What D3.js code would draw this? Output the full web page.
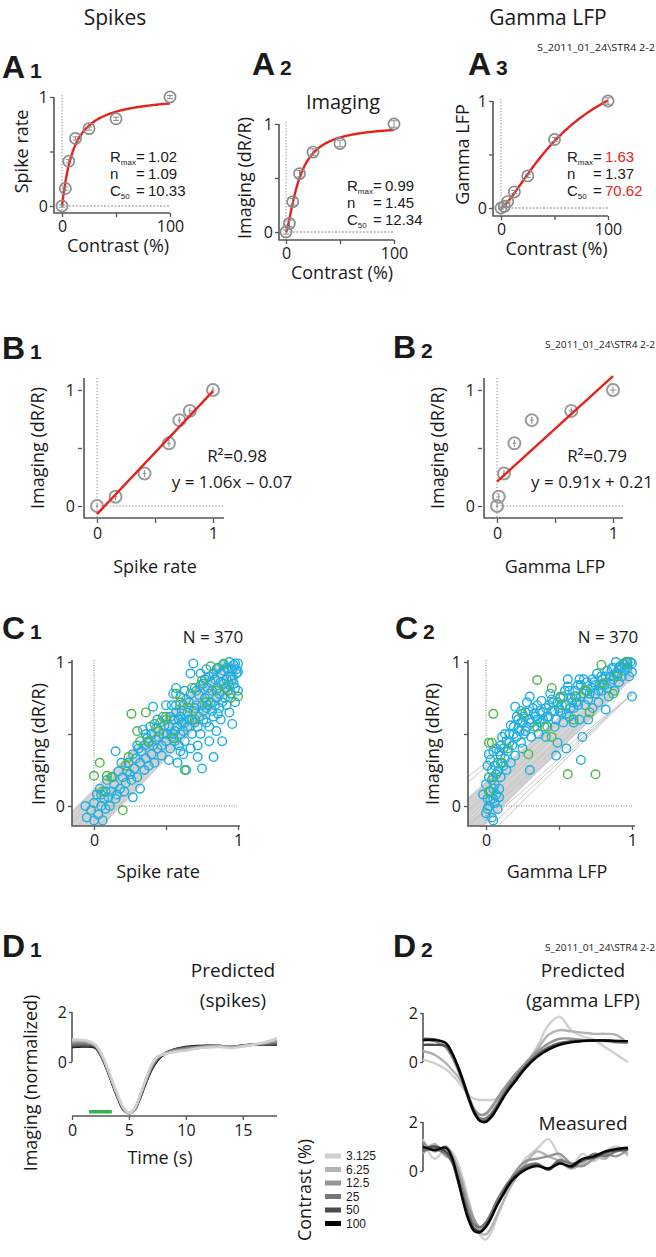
<!DOCTYPE html>
<html><head><meta charset="utf-8">
<script src="https://cdn.jsdelivr.net/npm/d3@7"></script>
<style>body{margin:0;background:#fff} svg{display:block;background:#fff} text{font-family:"Open Sans",sans-serif;fill:#1a1a1a}</style>
</head><body><svg id="c" width="656" height="1257"></svg>
<script>
// ---------- DATA ----------
const contrasts = [0, 3.125, 6.25, 12.5, 25, 50, 100];
const spikeResp = [0, 0.16, 0.41, 0.62, 0.71, 0.80, 1.0];
const spikeErr = [0.01, 0.015, 0.015, 0.015, 0.015, 0.015, 0.015];
const imagingResp = [0, 0.08, 0.28, 0.54, 0.74, 0.82, 1.0];
const imagingErr = [0.02, 0.03, 0.03, 0.03, 0.03, 0.03, 0.03];
const gammaResp = [0, 0.015, 0.06, 0.15, 0.30, 0.64, 1.0];
const gammaErr = [0.01, 0.01, 0.01, 0.015, 0.015, 0.02, 0.03];
const nrSpikes = [1.02, 1.09, 10.33];   // Rmax, n, C50
const nrImaging = [0.99, 1.45, 12.34];
const nrGamma = [1.63, 1.37, 70.62];
const statLabelsSpikes = ["1.02", "1.09", "10.33"];
const statLabelsImaging = ["0.99", "1.45", "12.34"];
const statLabelsGamma = ["1.63", "1.37", "70.62"];
const fitB1 = [1.06, -0.07];
const fitB2 = [0.91, 0.21];

const c1Blue = [[-0.05,-0.08],[-0.02,-0.03],[0.0,0.02],[0.03,-0.06],[0.05,0.0],[0.07,0.05],[0.02,0.08],[-0.06,0.0],[0.08,-0.02],[0.1,0.06],[0.04,0.12],[0.12,0.1],[0.06,-0.1],[0.0,-0.1],[0.15,0.05],[0.14,0.15],[0.09,0.18],[0.18,0.12],[0.2,0.2],[0.17,0.24],
[0.22,0.16],[0.25,0.22],[0.24,0.3],[0.28,0.26],[0.3,0.2],[0.32,0.3],[0.27,0.36],[0.15,0.38],[0.35,0.25],[0.33,0.38],[0.36,0.33],[0.38,0.28],[0.4,0.36],[0.42,0.3],[0.34,0.53],[0.38,0.44],[0.41,0.42],[0.44,0.4],[0.45,0.48],[0.43,0.54],[0.4,0.5],[0.37,0.47],[0.41,0.69],[0.47,0.35],[0.46,0.58],[0.3,0.42],[0.26,0.18],[0.21,0.1],[0.32,0.12],[0.27,0.06],
[0.48,0.5],[0.5,0.45],[0.52,0.55],[0.5,0.62],[0.54,0.7],[0.55,0.5],[0.56,0.6],[0.58,0.55],[0.57,0.65],[0.6,0.5],[0.6,0.62],[0.62,0.7],[0.61,0.58],[0.63,0.45],[0.64,0.25],[0.65,0.55],[0.65,0.65],[0.66,0.72],[0.67,0.92],[0.69,0.99],[0.68,0.6],[0.68,0.5],[0.7,0.68],[0.7,0.58],[0.53,0.4],[0.56,0.45],[0.59,0.42],[0.62,0.36],[0.58,0.3],[0.52,0.32],[0.55,0.78],[0.6,0.76],[0.63,0.8],[0.57,0.82],[0.5,0.7],
[0.72,0.34],[0.75,0.26],[0.72,0.42],[0.74,0.5],[0.73,0.62],[0.75,0.7],[0.76,0.6],[0.77,0.75],[0.78,0.68],[0.79,0.82],[0.8,0.55],[0.8,0.45],[0.81,0.72],[0.82,0.8],[0.83,0.62],[0.83,0.34],[0.84,0.88],[0.85,0.75],[0.85,0.52],[0.86,0.82],[0.87,0.68],[0.88,0.92],[0.88,0.6],[0.89,0.45],[0.9,0.85],[0.9,0.98],[0.91,0.75],[0.92,0.88],[0.93,0.8],[0.94,1.0],[0.94,0.65],[0.95,0.9],[0.96,0.57],[0.96,0.95],[0.97,0.85],[0.98,0.99],[0.99,0.92],[1.0,0.99],[1.0,0.93],[1.0,0.8],[0.98,0.72],[0.92,0.96],[0.86,0.96],[0.8,0.9],[0.76,0.85],[0.71,0.8],[0.74,0.92],[0.78,0.95],
[0.05,0.08],[0.11,0.0],[0.13,0.2],[0.19,0.3],[0.23,0.24],[0.29,0.33],[0.31,0.4],[0.35,0.42],[0.39,0.55],[0.43,0.46],[0.47,0.42],[0.49,0.56],[0.51,0.5],[0.53,0.62],[0.54,0.48],[0.57,0.7],[0.59,0.6],[0.61,0.66],[0.63,0.58],[0.64,0.74],[0.66,0.6],[0.67,0.78],[0.69,0.66],[0.7,0.82],[0.71,0.7],[0.72,0.55],[0.73,0.77],[0.74,0.84],[0.76,0.66],[0.77,0.88],[0.78,0.58],[0.79,0.7],[0.8,0.78],[0.81,0.86],[0.82,0.66],[0.83,0.92],[0.84,0.7],[0.85,0.95],[0.86,0.64],[0.87,0.78],[0.88,0.86],[0.89,0.72],[0.9,0.94],[0.91,0.82],[0.92,0.7],[0.93,0.95],[0.94,0.84],[0.95,0.78],[0.96,0.88],[0.97,0.98],[0.98,0.82],[0.99,0.95],[0.62,0.52],[0.56,0.52],[0.44,0.6],[0.36,0.5],[0.16,0.08],[0.08,0.1],[0.6,0.38],[0.67,0.4]];
const c1Green = [[0.26,0.64],[0.36,0.65],[0.42,0.57],[0.57,0.78],[0.75,0.87],[0.81,0.97],[0.9,0.99],[0.04,0.3],[0.0,0.21],[0.09,0.21],[0.24,0.34],[0.32,0.45],[0.38,0.45],[0.63,0.25],[0.6,0.72],[1.0,0.76],[0.92,0.82],[0.2,-0.03],[0.3,0.52],[0.45,0.52],[0.5,0.6],[0.66,0.68],[0.7,0.6],[0.78,0.72],[0.85,0.8],[0.55,0.47],[0.48,0.62],[0.12,0.2],[0.06,0.1],[0.22,0.28],[0.68,0.82],[0.95,0.75]];
const c2Blue = [[0.0,-0.05],[0.02,0.0],[0.04,-0.08],[0.01,0.05],[0.03,0.1],[0.05,0.05],[0.0,0.15],[0.02,0.2],[0.06,0.15],[0.04,0.25],[0.07,0.22],[0.08,0.3],[0.03,0.32],[0.05,0.38],[0.09,0.12],[0.1,0.2],[0.06,0.02],[0.08,-0.02],[-0.02,0.08],[0.01,0.28],[0.07,0.4],[0.1,0.35],[0.12,0.28],[0.12,0.4],[0.14,0.45],[0.11,0.48],[0.13,0.33],[0.15,0.38],[0.05,-0.1],[0.09,0.06],
[0.16,0.5],[0.18,0.42],[0.19,0.55],[0.2,0.69],[0.21,0.48],[0.22,0.6],[0.23,0.52],[0.24,0.44],[0.25,0.58],[0.26,0.5],[0.27,0.65],[0.28,0.55],[0.3,0.25],[0.3,0.76],[0.3,0.6],[0.31,0.48],[0.33,0.55],[0.34,0.62],[0.35,0.7],[0.36,0.5],[0.37,0.58],[0.38,0.73],[0.39,0.65],[0.4,0.55],[0.2,0.35],[0.17,0.3],[0.25,0.4],[0.32,0.68],[0.28,0.72],[0.24,0.66],
[0.42,0.62],[0.43,0.7],[0.44,0.78],[0.45,0.66],[0.46,0.72],[0.48,0.6],[0.49,0.44],[0.5,0.68],[0.51,0.75],[0.52,0.65],[0.53,0.58],[0.54,0.8],[0.55,0.7],[0.56,0.88],[0.56,0.83],[0.57,0.62],[0.58,0.75],[0.6,0.68],[0.61,0.8],[0.62,0.72],[0.63,0.84],[0.64,0.88],[0.65,0.76],[0.66,0.48],[0.67,0.88],[0.68,0.7],[0.69,0.8],[0.7,0.74],[0.47,0.55],[0.41,0.48],[0.55,0.4],
[0.72,0.82],[0.73,0.68],[0.74,0.86],[0.75,0.78],[0.76,0.92],[0.77,0.72],[0.78,0.84],[0.79,0.8],[0.8,0.88],[0.82,0.67],[0.82,0.9],[0.83,0.82],[0.84,0.76],[0.85,0.85],[0.86,0.95],[0.87,0.88],[0.88,0.8],[0.89,1.0],[0.9,0.92],[0.91,0.86],[0.92,0.97],[0.93,0.9],[0.94,0.99],[0.95,0.94],[0.96,1.0],[0.97,0.96],[0.98,0.9],[0.99,1.0],[1.0,0.99],[1.0,0.93],[1.0,0.76],[0.7,0.6],[0.6,0.58],
[0.01,-0.02],[0.03,0.04],[0.05,0.12],[0.06,0.28],[0.04,0.18],[0.08,0.24],[0.09,0.38],[0.11,0.3],[0.13,0.5],[0.16,0.44],[0.17,0.56],[0.19,0.5],[0.21,0.62],[0.22,0.54],[0.24,0.58],[0.26,0.62],[0.27,0.52],[0.29,0.66],[0.31,0.58],[0.33,0.64],[0.35,0.6],[0.37,0.66],[0.39,0.6],[0.41,0.68],[0.43,0.62],[0.45,0.74],[0.47,0.66],[0.49,0.72],[0.51,0.66],[0.53,0.76],[0.55,0.64],[0.57,0.8],[0.59,0.72],[0.61,0.76],[0.63,0.7],[0.65,0.84],[0.67,0.78],[0.69,0.86],[0.71,0.78],[0.73,0.88],[0.75,0.84],[0.77,0.8],[0.79,0.9],[0.81,0.84],[0.83,0.94],[0.85,0.9],[0.87,0.96],[0.89,0.92],[0.91,0.96],[0.93,0.96],[0.95,0.98],[0.97,1.0],[0.64,0.6],[0.58,0.68],[0.48,0.35],[0.65,0.32],[0.14,0.25],[0.07,0.08],[0.02,0.36],[0.1,0.42]];
const c2Green = [[0.35,0.875],[0.79,0.98],[0.96,1.0],[0.87,0.78],[0.56,0.22],[0.75,0.22],[0.05,0.64],[0.02,0.44],[0.04,0.44],[0.29,0.36],[0.45,0.82],[0.51,0.76],[0.62,0.76],[0.71,0.65],[0.6,0.6],[0.45,0.48],[0.25,0.64],[0.42,0.55],[0.1,0.3],[0.05,0.2],[0.15,0.4],[0.68,0.8],[0.8,0.85],[0.9,0.9],[0.52,0.7],[0.35,0.55],[0.02,0.1]];
// per-cell regression fits (slope, intercept)
const c1Band = [[1.0, 0.12], [1.05, -0.2]];
const c1Fits = [[1,0],[1.03,-0.05],[0.97,0.05],[1.05,-0.1],[0.95,0.08],[1.0,-0.12],[1.02,0.09],[0.98,-0.15],[1.04,0.02],[0.99,-0.08]];
const c2Band = [[0.9, 0.17], [1.0, -0.12]];
const c2Fits = [[0.95,0.05],[0.9,0.1],[1.0,0.0],[0.92,0.14],[0.97,-0.08],[0.88,0.12],[1.0,-0.05],[0.93,0.02]];
const c2Outliers = [[0.85,0.27],[0.78,0.3],[0.9,-0.12],[0.8,-0.03],[1.0,-0.22],[0.95,-0.17]];

const contrastLabels = ["3.125", "6.25", "12.5", "25", "50", "100"];
const contrastColors = ["#d0d0d0", "#b3b3b3", "#969696", "#767676", "#4a4a4a", "#050505"];
const timeS = [0,1,2,2.5,3,3.5,4,4.5,5,5.5,6,6.5,7,7.5,8,9,10,11,12,13,14,15,16,17,18];
const predSpikes3 = [0.9,0.88,0.72,0.4,-0.1,-0.7,-1.3,-1.8,-2.05,-1.85,-1.3,-0.65,-0.1,0.22,0.3,0.4,0.45,0.55,0.58,0.6,0.55,0.62,0.7,0.8,0.95];
const predSpikes6 = [0.85,0.85,0.7,0.38,-0.12,-0.72,-1.32,-1.82,-2.05,-1.85,-1.3,-0.68,-0.12,0.2,0.3,0.42,0.48,0.55,0.6,0.62,0.58,0.63,0.7,0.78,0.9];
const predSpikes12 = [0.8,0.8,0.68,0.35,-0.15,-0.75,-1.35,-1.85,-2.05,-1.87,-1.33,-0.72,-0.18,0.17,0.3,0.45,0.52,0.58,0.62,0.63,0.6,0.65,0.7,0.76,0.85];
const predSpikes25 = [0.7,0.72,0.65,0.33,-0.18,-0.78,-1.38,-1.86,-2.05,-1.88,-1.36,-0.76,-0.22,0.13,0.3,0.48,0.55,0.6,0.63,0.64,0.6,0.66,0.7,0.73,0.78];
const predSpikes50 = [0.62,0.65,0.6,0.3,-0.2,-0.8,-1.4,-1.88,-2.05,-1.9,-1.4,-0.8,-0.26,0.1,0.3,0.5,0.58,0.62,0.64,0.64,0.6,0.66,0.7,0.72,0.72];
const predSpikes100 = [0.6,0.62,0.58,0.28,-0.22,-0.82,-1.42,-1.9,-2.05,-1.9,-1.42,-0.82,-0.3,0.06,0.28,0.5,0.6,0.64,0.65,0.64,0.6,0.66,0.7,0.7,0.7];
const predGamma3 = [0.1,-0.05,-0.3,-0.5,-0.75,-1.05,-1.35,-1.5,-1.55,-1.55,-1.55,-1.5,-1.35,-1.1,-0.75,-0.1,0.6,1.5,1.85,1.3,1.05,0.9,0.6,0.3,0.0];
const predGamma6 = [0.45,0.3,-0.05,-0.3,-0.55,-0.9,-1.4,-1.9,-2.15,-2.15,-1.9,-1.55,-1.2,-0.9,-0.6,-0.05,0.5,1.1,1.3,1.25,1.2,1.15,1.15,1.1,0.75];
const predGamma12 = [0.9,0.85,0.6,0.25,-0.25,-0.85,-1.5,-1.95,-2.15,-2.1,-1.85,-1.5,-1.15,-0.85,-0.55,-0.05,0.4,0.75,0.95,0.95,0.9,0.88,0.85,0.8,0.78];
const predGamma25 = [0.95,0.93,0.75,0.4,-0.1,-0.7,-1.4,-2.0,-2.3,-2.3,-2.1,-1.75,-1.35,-1.0,-0.7,-0.15,0.3,0.6,0.78,0.85,0.88,0.88,0.87,0.85,0.85];
const predGamma50 = [0.7,0.7,0.65,0.35,-0.15,-0.8,-1.5,-2.1,-2.4,-2.4,-2.2,-1.85,-1.45,-1.1,-0.8,-0.2,0.25,0.55,0.75,0.83,0.87,0.88,0.88,0.86,0.85];
const predGamma100 = [0.9,0.9,0.78,0.42,-0.1,-0.75,-1.45,-2.05,-2.4,-2.45,-2.25,-1.9,-1.5,-1.15,-0.85,-0.25,0.2,0.5,0.7,0.8,0.85,0.88,0.88,0.86,0.85];
const meas3 = [1.3,0.5,0.9,0.8,0.4,-0.3,-1.2,-2.0,-2.6,-2.8,-2.5,-1.9,-1.3,-0.7,-0.2,0.5,0.9,1.3,0.6,0.2,0.7,0.4,0.8,1.0,0.6];
const meas6 = [0.7,1.1,0.6,0.5,0.2,-0.5,-1.3,-2.0,-2.5,-2.6,-2.3,-1.8,-1.3,-0.8,-0.4,0.3,0.8,0.6,0.4,0.1,0.3,0.6,0.5,0.9,0.7];
const meas12 = [1.2,0.8,1.0,0.7,0.1,-0.7,-1.5,-2.0,-2.3,-2.2,-1.8,-1.3,-0.9,-0.5,-0.1,0.4,0.5,0.6,0.7,0.3,0.2,0.5,0.7,0.6,0.9];
const meas25 = [0.8,0.9,0.7,0.4,-0.2,-0.9,-1.7,-2.2,-2.3,-2.1,-1.7,-1.2,-0.8,-0.45,-0.2,0.2,0.3,0.1,0.45,0.3,0.4,0.7,0.6,0.8,0.85];
const meas50 = [0.9,1.0,0.8,0.5,-0.3,-1.1,-1.9,-2.35,-2.45,-2.25,-1.85,-1.4,-0.95,-0.55,-0.25,0.1,0.25,0.05,0.35,0.15,0.45,0.55,0.75,0.85,0.9];
const meas100 = [1.0,0.85,0.95,0.6,-0.2,-1.2,-2.0,-2.45,-2.5,-2.3,-1.9,-1.4,-1.0,-0.6,-0.3,0.05,0.2,0.1,0.3,0.2,0.5,0.6,0.8,0.9,0.95];
const stimOn = [1.5, 3.5];
const sessionId = "S_2011_01_24\\STR4 2-2";

// ---------- DRAWING ----------
const svg = d3.select('#c');
const AX = '#555', RED = '#e5231d', MK = '#8c8c8c', BLUE = '#1eaee4', GREEN = '#4cb848';
const NARROW = '"Liberation Sans", Arial, sans-serif';

function T(x, y, s, o = {}) {
  const t = svg.append('text').attr('x', x).attr('y', y)
    .attr('font-size', o.size || 16).attr('text-anchor', o.anchor || 'middle')
    .attr('dy', o.dy == null ? '0.35em' : o.dy).text(s);
  if (o.rot) t.attr('transform', `rotate(-90,${x},${y})`);
  if (o.weight) t.attr('font-weight', o.weight);
  if (o.fill) t.style('fill', o.fill);
  if (o.family) t.style('font-family', o.family);
  if (o.len) t.attr('textLength', o.len).attr('lengthAdjust', 'spacingAndGlyphs');
  return t;
}
function letter(x, y, L, n) {
  const t = svg.append('text').attr('x', x).attr('y', y)
    .style('font-family', NARROW).attr('font-weight', 'bold')
    .attr('font-size', 32).text(L);
  t.append('tspan').attr('dx', 5).attr('font-size', 21).text(n);
}
function styleAxis(g) {
  g.select('.domain').remove();
  g.selectAll('line').attr('stroke', AX).attr('stroke-width', 1.3);
  g.selectAll('text').attr('font-size', 16).attr('font-family', '"Open Sans", sans-serif').style('fill', '#1a1a1a');
}
function path(d, stroke, w, dash) {
  const p = svg.append('path').attr('d', d).attr('fill', 'none').attr('stroke', stroke).attr('stroke-width', w);
  if (dash) p.attr('stroke-dasharray', dash);
  return p;
}
function statRow(x, y, main, sub, val, col) {
  const t = svg.append('text').attr('x', x).attr('y', y).attr('dy', '0.35em').attr('font-size', 15)
    .style('font-family', NARROW);
  t.append('tspan').text(main);
  if (sub) t.append('tspan').attr('font-size', 8).attr('dy', 3).text(sub);
  t.append('tspan').attr('x', x + 26).attr('dy', sub ? -3 : 0).text('=');
  t.append('tspan').attr('x', x + 38).style('fill', col || '#1a1a1a').text(val);
}
const nr = (c, p) => p[0] * Math.pow(c, p[1]) / (Math.pow(c, p[1]) + Math.pow(p[2], p[1]));

// Titles
T(115, 25, 'Spikes', {size: 21, dy: 0});
T(548, 25, 'Gamma LFP', {size: 21, dy: 0});

// ---- A panels ----
function panelA(c) {
  const x = d3.scaleLinear([0, 100], [c.x0, c.x1]);
  const y = d3.scaleLinear([0, 1], [c.y0, c.y1]);
  path(`M${x(0)},${y(1) - 2}V${c.xa}`, '#9a9a9a', 1, '1.5,1.5');
  path(`M${x(0)},${y(0)}H${x(100)}`, '#c4c4c4', 1.8, '2,1.5');
  path(`M${c.ax},${y(1)}V${c.xa}H${x(100)}`, AX, 1.6);
  svg.append('g').attr('transform', `translate(${c.ax},0)`)
    .call(d3.axisLeft(y).tickValues([0, 0.5, 1]).tickFormat(d => d === 0.5 ? '' : d).tickSize(4).tickPadding(2)).call(styleAxis);
  svg.append('g').attr('transform', `translate(0,${c.xa})`)
    .call(d3.axisBottom(x).tickValues([0, 50, 100]).tickFormat(d => d === 50 ? '' : d).tickSize(4).tickPadding(4)).call(styleAxis);
  const cs = d3.range(0, 100.001, 0.5);
  svg.append('path').datum(cs).attr('d', d3.line().x(d => x(d)).y(d => y(nr(d, c.p))))
    .attr('fill', 'none').attr('stroke', RED).attr('stroke-width', 2.4);
  const g = svg.append('g');
  contrasts.forEach((cc, i) => {
    const px = x(cc), py = y(c.r[i]), e = Math.max(1.2, (c.y0 - c.y1) * c.e[i]);
    g.append('circle').attr('cx', px).attr('cy', py).attr('r', 5.6).attr('fill', 'none').attr('stroke', MK).attr('stroke-width', 1.7);
    g.append('path').attr('d', `M${px},${py - e}V${py + e}M${px - 3},${py - e}H${px + 3}M${px - 3},${py + e}H${px + 3}`)
      .attr('stroke', MK).attr('stroke-width', 1).attr('fill', 'none');
  });
  T((c.x0 + c.x1) / 2 + 2, c.xa + 33, 'Contrast (%)', {size: 18});
  T(c.ylx, (c.y0 + c.y1) / 2, c.yl, {size: 18, rot: true});
  statRow(c.sx, c.sy, 'R', 'max', c.s[0], c.red ? RED : null);
  statRow(c.sx, c.sy + 17, 'n', null, c.s[1]);
  statRow(c.sx, c.sy + 34, 'C', '50', c.s[2], c.red ? RED : null);
}
letter(2, 78, 'A', '1');
panelA({ax: 54, x0: 62, x1: 170, y0: 206, y1: 97, xa: 213, r: spikeResp, e: spikeErr, p: nrSpikes, s: statLabelsSpikes, sx: 110, sy: 157, yl: 'Spike rate', ylx: 22});
letter(252, 75, 'A', '2');
T(343, 102, 'Imaging', {size: 20});
panelA({ax: 279, x0: 286, x1: 394, y0: 232, y1: 124, xa: 240, r: imagingResp, e: imagingErr, p: nrImaging, s: statLabelsImaging, sx: 347, sy: 186, yl: 'Imaging (dR/R)', ylx: 245});
letter(468, 75, 'A', '3');
T(655, 48, sessionId, {size: 9.5, anchor: 'end', len: 118});
panelA({ax: 493, x0: 501, x1: 608, y0: 208, y1: 101, xa: 216, r: gammaResp, e: gammaErr, p: nrGamma, s: statLabelsGamma, sx: 567, sy: 157, yl: 'Gamma LFP', ylx: 463, red: true});

// ---- B panels ----
function panelB(c) {
  const x = d3.scaleLinear([0, 1], [c.x0, c.x0 + 116]);
  const y = d3.scaleLinear([0, 1], [506, 390]);
  const xa = 518;
  path(`M${x(0)},378V${xa}`, '#8a8a8a', 1, '1.2,2');
  path(`M${x(0)},${y(0)}H${c.xr}`, '#8a8a8a', 1, '1.2,2');
  path(`M${c.ax},378V${xa}H${c.xr}`, AX, 1.6);
  svg.append('g').attr('transform', `translate(${c.ax - 2},0)`)
    .call(d3.axisLeft(y).tickValues([0, 0.5, 1]).tickFormat(d => d === 0.5 ? '' : d).tickSize(4).tickPadding(3)).call(styleAxis);
  svg.append('g').attr('transform', `translate(0,${xa + 1})`)
    .call(d3.axisBottom(x).tickValues([0, 0.5, 1]).tickFormat(d => d === 0.5 ? '' : d).tickSize(4).tickPadding(5)).call(styleAxis);
  const g = svg.append('g');
  c.xs.forEach((xv, i) => {
    const px = x(xv), py = y(imagingResp[i]);
    const ey = Math.max(1.5, 116 * imagingErr[i]), ex = Math.max(1, 116 * c.xe[i]);
    g.append('circle').attr('cx', px).attr('cy', py).attr('r', 6).attr('fill', 'none').attr('stroke', '#9a9a9a').attr('stroke-width', 2);
    g.append('path').attr('d', `M${px},${py - ey}V${py + ey}M${px - ex},${py}H${px + ex}`)
      .attr('stroke', '#9a9a9a').attr('stroke-width', 1.2);
  });
  svg.append('line').attr('x1', x(0)).attr('y1', y(c.f[1])).attr('x2', x(1)).attr('y2', y(c.f[0] + c.f[1]))
    .attr('stroke', RED).attr('stroke-width', 2.4);
  T(c.ylx, 448, 'Imaging (dR/R)', {size: 18, rot: true});
  T(c.x0 + 58, 567, c.xl, {size: 18});
  T(c.tx, 456, 'R²=' + c.r2, {size: 17});
  T(c.tx - 5, 482, c.eq, {size: 17});
}
letter(2, 359, 'B', '1');
panelB({ax: 84, x0: 97, xr: 224, xs: spikeResp, xe: spikeErr, f: fitB1, ylx: 38, xl: 'Spike rate', tx: 237, r2: '0.98', eq: 'y = 1.06x – 0.07'});
letter(393, 358, 'B', '2');
T(655, 345, sessionId, {size: 9.5, anchor: 'end', len: 110});
panelB({ax: 484, x0: 497, xr: 623, xs: gammaResp, xe: gammaErr, f: fitB2, ylx: 438, xl: 'Gamma LFP', tx: 597, r2: '0.79', eq: 'y = 0.91x + 0.21'});

// ---- C panels ----
function panelC(c) {
  const x = d3.scaleLinear([0, 1], [c.x0, c.x1]);
  const y = d3.scaleLinear([0, 1], [806, 662]);
  const xa = 826, top = 660;
  const xmin = x.invert(c.ax), id = 'clip' + c.ax;
  svg.append('clipPath').attr('id', id).append('rect')
    .attr('x', c.ax).attr('y', y(1)).attr('width', x(1) - c.ax).attr('height', xa - y(1));
  const gc = svg.append('g').attr('clip-path', `url(#${id})`);
  const xsA = [xmin, 1];
  gc.append('path').datum(xsA).attr('d', d3.area().x(d => x(d))
      .y0(d => y(c.band[1][0] * d + c.band[1][1])).y1(d => y(c.band[0][0] * d + c.band[0][1])))
    .attr('fill', '#cdcdcd');
  c.fits.forEach(f => gc.append('line').attr('x1', x(xmin)).attr('y1', y(f[0] * xmin + f[1])).attr('x2', x(1)).attr('y2', y(f[0] + f[1]))
    .attr('stroke', '#e4e4e4').attr('stroke-width', 0.7));
  (c.out || []).forEach(f => gc.append('line').attr('x1', x(xmin)).attr('y1', y(f[0] * xmin + f[1])).attr('x2', x(1)).attr('y2', y(f[0] + f[1]))
    .attr('stroke', '#c8c8c8').attr('stroke-width', 1));
  path(`M${x(0)},${top}V${xa}`, '#8a8a8a', 1, '1,1.5');
  path(`M${x(0)},${y(0)}H${x(1)}`, '#8a8a8a', 1, '1,1.5');
  path(`M${c.ax},${top}V${xa}H${c.xr}`, AX, 1.6);
  svg.append('g').attr('transform', `translate(${c.ax},0)`)
    .call(d3.axisLeft(y).tickValues([0, 0.5, 1]).tickFormat(d => d === 0.5 ? '' : d).tickSize(4).tickPadding(3)).call(styleAxis);
  svg.append('g').attr('transform', `translate(0,${xa})`)
    .call(d3.axisBottom(x).tickValues([0, 0.5, 1]).tickFormat(d => d === 0.5 ? '' : d).tickSize(4).tickPadding(5)).call(styleAxis);
  const g = svg.append('g');
  c.blue.forEach(p => g.append('circle').attr('cx', x(p[0])).attr('cy', y(p[1])).attr('r', 4.3)
    .attr('fill', 'none').attr('stroke', BLUE).attr('stroke-width', 1.4));
  c.green.forEach(p => g.append('circle').attr('cx', x(p[0])).attr('cy', y(p[1])).attr('r', 4.3)
    .attr('fill', 'none').attr('stroke', GREEN).attr('stroke-width', 1.4));
  T(c.ylx, 744, 'Imaging (dR/R)', {size: 18, rot: true});
  T(c.xlx, 872, c.xl, {size: 18});
  T(c.nx, 637, 'N = 370', {size: 17});
}
letter(2, 639, 'C', '1');
panelC({ax: 72, x0: 94, x1: 238, xr: 240, band: c1Band, fits: c1Fits, blue: c1Blue, green: c1Green, ylx: 39, xlx: 158, xl: 'Spike rate', nx: 213});
letter(395, 639, 'C', '2');
panelC({ax: 468, x0: 486, x1: 632, xr: 635, band: c2Band, fits: c2Fits, out: c2Outliers, blue: c2Blue, green: c2Green, ylx: 433, xlx: 557, xl: 'Gamma LFP', nx: 608});

// ---- D panels ----
function traces(x, y, sets, order) {
  const line = d3.line().x((d, i) => x(timeS[i])).y(d => y(d)).curve(d3.curveCatmullRom.alpha(0.5));
  order.forEach(i => svg.append('path').datum(sets[i]).attr('d', line).attr('fill', 'none')
    .attr('stroke', contrastColors[i]).attr('stroke-width', 2.4).attr('stroke-linejoin', 'round'));
}
function yAxisD(ax, y) {
  path(`M${ax},${y(2)}V${y(0)}`, AX, 1.6);
  svg.append('g').attr('transform', `translate(${ax},0)`)
    .call(d3.axisLeft(y).tickValues([0, 2]).tickFormat(d3.format('d')).tickSize(3).tickPadding(2)).call(styleAxis);
}
letter(2, 957, 'D', '1');
{
  const x = d3.scaleLinear([0, 18], [72, 277]);
  const y = d3.scaleLinear([0, 2], [1062, 1012]);
  yAxisD(72, y);
  traces(x, y, [predSpikes3, predSpikes6, predSpikes12, predSpikes25, predSpikes50, predSpikes100], [5, 4, 3, 2, 1, 0]);
  path(`M72,1116H277`, AX, 1.6);
  svg.append('g').attr('transform', 'translate(0,1116)')
    .call(d3.axisBottom(x).tickValues([0, 5, 10, 15]).tickFormat(d3.format('d')).tickSize(4).tickPadding(5)).call(styleAxis);
  svg.append('rect').attr('x', x(stimOn[0])).attr('y', 1110).attr('width', x(stimOn[1]) - x(stimOn[0])).attr('height', 3.5).attr('fill', '#2fb34c');
  T(160, 1158, 'Time (s)', {size: 18});
  T(31, 1083, 'Imaging (normalized)', {size: 18, rot: true});
  T(233, 970, 'Predicted', {size: 19});
  T(233, 1000, '(spikes)', {size: 19});
}
letter(393, 957, 'D', '2');
T(655, 948, sessionId, {size: 9.5, anchor: 'end', len: 110});
{
  const x = d3.scaleLinear([0, 18], [423, 628]);
  const y = d3.scaleLinear([0, 2], [1062, 1013]);
  yAxisD(423, y);
  traces(x, y, [predGamma3, predGamma6, predGamma12, predGamma25, predGamma50, predGamma100], [0, 1, 2, 3, 4, 5]);
  T(583, 970, 'Predicted', {size: 19});
  T(583, 1000, '(gamma LFP)', {size: 19});
  const y2 = d3.scaleLinear([0, 2], [1171, 1122]);
  yAxisD(423, y2);
  traces(x, y2, [meas3, meas6, meas12, meas25, meas50, meas100], [0, 1, 2, 3, 4, 5]);
  T(583, 1123, 'Measured', {size: 19});
}
// legend
T(305, 1190, 'Contrast (%)', {size: 18, rot: true});
contrastLabels.forEach((l, i) => {
  const yy = 1156 + i * 13.5;
  svg.append('rect').attr('x', 325).attr('y', yy - 2.5).attr('width', 16).attr('height', 5).attr('fill', contrastColors[i]);
  T(346, yy, l, {size: 12, anchor: 'start', family: NARROW});
});
</script></body></html>
